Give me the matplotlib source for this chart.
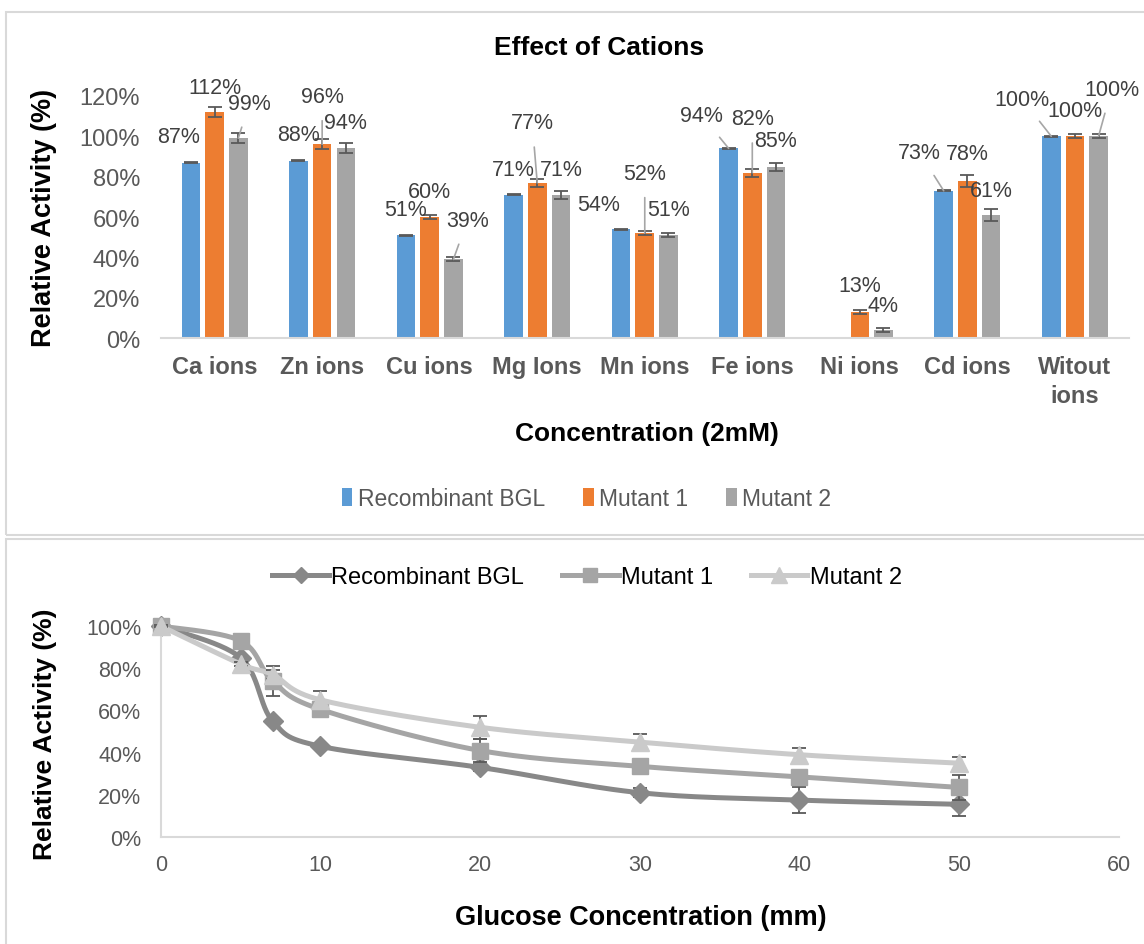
import matplotlib.pyplot as plt
import numpy as np
from matplotlib.lines import Line2D
from matplotlib.patches import Rectangle

# ---- data: effect of cations (top chart) ----
ions = ['Ca ions', 'Zn ions', 'Cu ions', 'Mg Ions', 'Mn ions', 'Fe ions',
        'Ni ions', 'Cd ions', 'Witout\nions']
series = ['Recombinant BGL', 'Mutant 1', 'Mutant 2']
recomb_bgl = [0.87, 0.88, 0.51, 0.71, 0.54, 0.94, 0.0, 0.73, 1.00]
mutant_1 = [1.12, 0.96, 0.60, 0.77, 0.52, 0.82, 0.13, 0.78, 1.00]
mutant_2 = [0.99, 0.94, 0.39, 0.71, 0.51, 0.85, 0.04, 0.61, 1.00]
recomb_bgl_err = [0.003] * 9
mutant_1_err = [0.025, 0.025, 0.01, 0.02, 0.01, 0.02, 0.01, 0.03, 0.01]
mutant_2_err = [0.025, 0.025, 0.01, 0.02, 0.01, 0.02, 0.01, 0.03, 0.01]

# ---- data: glucose tolerance (bottom chart) ----
glucose = [0, 5, 7, 10, 20, 30, 40, 50]
gl_recomb = [1.00, 0.85, 0.55, 0.43, 0.33, 0.21, 0.175, 0.155]
gl_mut1 = [1.00, 0.93, 0.74, 0.605, 0.41, 0.335, 0.285, 0.235]
gl_mut2 = [1.00, 0.82, 0.77, 0.65, 0.52, 0.45, 0.39, 0.35]
gl_recomb_err = [0.005, 0.01, 0.01, 0.01, 0.015, 0.02, 0.06, 0.055]
gl_mut1_err = [0.005, 0.01, 0.07, 0.02, 0.055, 0.02, 0.02, 0.06]
gl_mut2_err = [0.005, 0.01, 0.02, 0.04, 0.055, 0.04, 0.03, 0.03]

# label offsets (pixels) and leader-line flags per series
lab_off = [
    [(-12, 26), (0, 26), (0, 26), (0, 25), (-22, 25), (-27, 33), (0, 0), (-24, 38), (-29, 37)],
    [(0, 25), (0, 48), (0, 26), (-5, 60), (0, 60), (0, 54), (0, 26), (0, 27), (0, 26)],
    [(11, 35), (0, 26), (14, 39), (0, 25), (0, 26), (0, 26), (0, 25), (0, 25), (13, 47)],
]
leader = [
    [0, 0, 0, 0, 0, 1, 0, 1, 1],
    [0, 1, 0, 1, 1, 1, 0, 0, 0],
    [1, 0, 1, 0, 0, 0, 0, 0, 1],
]

bar_colors = ['#5b9bd5', '#ed7d31', '#a5a5a5']
line_colors = ['#888888', '#a5a5a5', '#cacaca']
tick_gray = '#595959'
label_gray = '#404040'
frame_gray = '#d9d9d9'
font = ['Liberation Sans', 'DejaVu Sans']

plt.rcParams['font.family'] = font

fig = plt.figure(figsize=(11.44, 9.45), dpi=100)

# chart frames
fig.patches.append(Rectangle((6 / 1144, 1 - 536 / 945), 1.2, (536 - 13) / 945,
                             transform=fig.transFigure, fill=False,
                             edgecolor=frame_gray, lw=1.5))
fig.patches.append(Rectangle((6 / 1144, -0.1), 1.2, 0.1 + (945 - 540) / 945,
                             transform=fig.transFigure, fill=False,
                             edgecolor=frame_gray, lw=1.5))

# ---------------- top chart ----------------
ax = fig.add_axes([0.1406, 0.641, 0.846, 0.2565])
x = np.arange(len(ions))
width = 0.173
step = 0.22
vals = [recomb_bgl, mutant_1, mutant_2]
errs = [recomb_bgl_err, mutant_1_err, mutant_2_err]
for k in range(3):
    xpos = x + (k - 1) * step
    v_arr = np.array(vals[k])
    ax.bar(xpos, v_arr, width, color=bar_colors[k], label=series[k],
           linewidth=0, zorder=2)
    shown = v_arr > 0
    ax.errorbar(xpos[shown], v_arr[shown], yerr=np.array(errs[k])[shown],
                fmt='none', ecolor=tick_gray, elinewidth=1.3, capsize=5,
                capthick=1.3, zorder=3)
    for i, v in enumerate(vals[k]):
        if v <= 0:
            continue
        dx, dy = lab_off[k][i]
        props = dict(arrowstyle='-', color='#a6a6a6', lw=1.2,
                     shrinkA=8, shrinkB=0) if leader[k][i] else None
        ax.annotate(f'{round(v * 100):d}%', xy=(xpos[i], v), xytext=(dx, dy),
                    textcoords='offset pixels', ha='center', va='center',
                    fontsize=15.5, color=label_gray, arrowprops=props,
                    zorder=4)

ax.set_xlim(-0.5, len(ions) - 0.5)
ax.set_ylim(0, 1.2)
ax.set_yticks(np.arange(0, 1.21, 0.2))
ax.set_yticklabels([f'{int(round(t * 100))}%' for t in np.arange(0, 1.21, 0.2)])
ax.set_xticks(x)
ax.set_xticklabels(ions, fontweight='bold', fontsize=17, color=tick_gray,
                   linespacing=1.35)
ax.tick_params(axis='y', length=0, labelsize=17, labelcolor=tick_gray, pad=15)
ax.tick_params(axis='x', length=0, pad=12)
for s in ['top', 'right', 'left']:
    ax.spines[s].set_visible(False)
ax.spines['bottom'].set_color(frame_gray)
ax.spines['bottom'].set_linewidth(1.5)
fig.text(599 / 1144, 1 - 48 / 945, 'Effect of Cations', fontsize=19,
         fontweight='bold', ha='center', va='center')
ax.set_ylabel('Relative Activity (%)', fontsize=19.5, fontweight='bold')
ax.yaxis.set_label_coords(-0.107, 0.5)
ax.set_xlabel('Concentration (2mM)', fontsize=19, fontweight='bold')
ax.xaxis.set_label_coords(0.502, -0.343)
leg = ax.legend(loc='center', bbox_to_anchor=(0.44, -0.66), ncol=3,
                frameon=False, handlelength=0.45, handleheight=0.8,
                handletextpad=0.25, columnspacing=1.65, fontsize=16.5)
for t in leg.get_texts():
    t.set_color(tick_gray)


# ---------------- bottom chart ----------------
def smooth(xs, ys, sx, sy, n=30):
    # Bezier smoothing like a spreadsheet "smoothed line", in pixel space
    px = np.asarray(xs, float) * sx
    py = np.asarray(ys, float) * sy
    P = np.column_stack([px, py])
    out = [P[0]]
    for i in range(len(P) - 1):
        p0 = P[i - 1] if i > 0 else P[i]
        p1, p2 = P[i], P[i + 1]
        p3 = P[i + 2] if i + 2 < len(P) else P[i + 1]
        c1 = p1 + (p2 - p0) / 6
        c2 = p2 - (p3 - p1) / 6
        t = np.linspace(0, 1, n)[1:, None]
        seg = ((1 - t) ** 3) * p1 + 3 * ((1 - t) ** 2) * t * c1 \
            + 3 * (1 - t) * t ** 2 * c2 + t ** 3 * p2
        out.extend(seg)
    out = np.array(out)
    return out[:, 0] / sx, out[:, 1] / sy


ax2 = fig.add_axes([0.1405, 0.1132, 0.8375, 0.2233])
sx, sy = 958 / 60, 211
gl_vals = [gl_recomb, gl_mut1, gl_mut2]
gl_errs = [gl_recomb_err, gl_mut1_err, gl_mut2_err]
markers = ['D', 's', '^']
msizes = [10, 12, 13]
handles = []
for k in range(3):
    cx, cy = smooth(glucose, gl_vals[k], sx, sy)
    ax2.plot(cx, cy, color=line_colors[k], lw=3.6, zorder=2 + k,
             solid_capstyle='round', clip_on=False)
    ax2.errorbar(glucose, gl_vals[k], yerr=gl_errs[k], fmt='none',
                 ecolor=tick_gray, elinewidth=1.3, capsize=5, capthick=1.3,
                 zorder=2 + k, clip_on=False)
    ax2.plot(glucose, gl_vals[k], linestyle='none', marker=markers[k],
             markersize=msizes[k], color=line_colors[k], zorder=2.5 + k,
             clip_on=False)
    handles.append(Line2D([], [], color=line_colors[k], lw=3.6,
                          marker=markers[k], markersize=msizes[k] - 2))

ax2.set_xlim(0, 60)
ax2.set_ylim(0, 1.0)
ax2.set_xticks(range(0, 61, 10))
ax2.set_yticks(np.arange(0, 1.01, 0.2))
ax2.set_yticklabels([f'{int(round(t * 100))}%' for t in np.arange(0, 1.01, 0.2)])
ax2.tick_params(length=0, labelsize=15.5, labelcolor=tick_gray)
ax2.tick_params(axis='x', pad=12)
ax2.tick_params(axis='y', pad=14)
for s in ['top', 'right']:
    ax2.spines[s].set_visible(False)
for s in ['bottom', 'left']:
    ax2.spines[s].set_color(frame_gray)
    ax2.spines[s].set_linewidth(1.5)
ax2.set_ylabel('Relative Activity (%)', fontsize=19, fontweight='bold')
ax2.yaxis.set_label_coords(-0.108, 0.49)
ax2.set_xlabel('Glucose Concentration (mm)', fontsize=19.5, fontweight='bold')
ax2.xaxis.set_label_coords(0.501, -0.318)
leg2 = ax2.legend(handles, series, loc='center', bbox_to_anchor=(0.445, 1.23),
                  ncol=3, frameon=False, handlelength=2.4, handletextpad=0.1,
                  columnspacing=1.6, fontsize=17)

fig.savefig('out.png', dpi=100)
